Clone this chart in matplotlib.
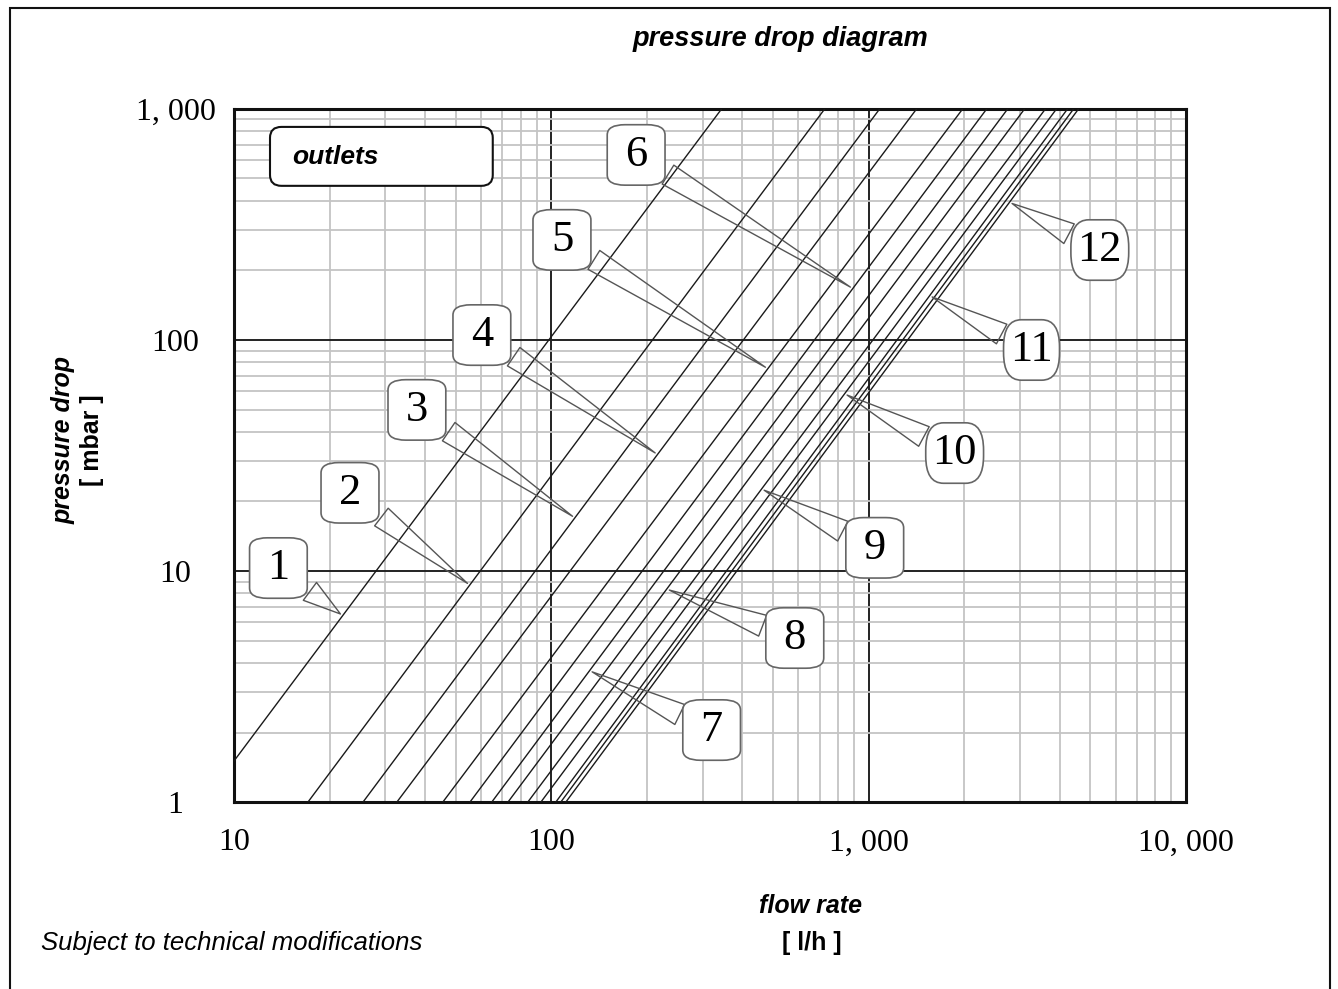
import numpy as np
import matplotlib
matplotlib.use("Agg")
import matplotlib.pyplot as plt
from matplotlib.patches import FancyBboxPatch, Rectangle
from matplotlib.ticker import FixedLocator, NullFormatter

# flow rate [l/h] where each line is at 1 mbar and at 1000 mbar
flow_at_1mbar = [8.0, 17.1, 25.5, 32.6, 45.5, 55.4, 64.9, 73.0, 84.3, 92.7, 103.3, 107.1, 111.1]
flow_at_1000mbar = [344, 727, 1083, 1416, 1978, 2355, 2742, 3100, 3606, 3908, 4234, 4424, 4586]
pressure_ends = [1, 1000]

# callout labels and the line each one points at
outlet_labels = ["1", "2", "3", "4", "5", "6", "7", "8", "9", "10", "11", "12"]
label_line = [0, 1, 2, 3, 4, 5, 6, 7, 8, 9, 10, 12]
# flow rate where each callout touches its line
pointer_flow = [22.0, 55.3, 118.6, 216, 481, 891, 132, 231, 460, 840, 1557, 2780]
# callout box positions (flow, pressure)
label_flow = [13.8, 23.2, 37.7, 60.4, 108, 185, 320, 585, 1045, 1866, 3260, 5350]
label_pressure = [10.3, 21.8, 49.8, 105, 271, 632, 2.05, 5.13, 12.6, 32.4, 90.5, 245]

x_ticks = [10, 100, 1000, 10000]
x_tick_labels = ["10", "100", "1, 000", "10, 000"]
y_ticks = [1, 10, 100, 1000]
y_tick_labels = ["1", "10", "100", "1, 000"]


def point_on_line(i, q):
    # straight line in log-log space between the two read end points
    lx = np.log10([flow_at_1mbar[i], flow_at_1000mbar[i]])
    ly = np.log10(pressure_ends)
    return 10 ** np.interp(np.log10(q), lx, ly)


def main():
    fig = plt.figure(figsize=(13.38, 9.89), dpi=100)
    ax = fig.add_axes([0.1749, 0.189, 0.7115, 0.7009])

    ax.set_xscale("log")
    ax.set_yscale("log")
    ax.set_xlim(10, 10000)
    ax.set_ylim(1, 1000)

    # grid
    minors = [m * 10 ** e for e in range(0, 4) for m in range(2, 10)]
    ax.xaxis.set_minor_locator(FixedLocator(minors))
    ax.yaxis.set_minor_locator(FixedLocator(minors))
    ax.xaxis.set_minor_formatter(NullFormatter())
    ax.yaxis.set_minor_formatter(NullFormatter())
    ax.grid(which="minor", color="#c4c4c4", lw=1.3)
    ax.grid(which="major", color="#222222", lw=1.4)
    ax.set_axisbelow(True)

    ax.set_xticks(x_ticks)
    ax.set_xticklabels(x_tick_labels)
    ax.set_yticks(y_ticks)
    ax.set_yticklabels(y_tick_labels)
    ax.tick_params(which="both", length=0)
    ax.tick_params(axis="x", pad=19, labelsize=23)
    ax.tick_params(axis="y", pad=42, labelsize=23)
    for lab in ax.get_xticklabels() + ax.get_yticklabels():
        lab.set_fontfamily("Liberation Serif")
    for lab in ax.get_yticklabels():
        lab.set_horizontalalignment("center")

    for sp in ax.spines.values():
        sp.set_linewidth(2.2)
        sp.set_color("#111111")

    # characteristic lines
    for i in range(len(flow_at_1mbar)):
        ax.plot([flow_at_1mbar[i], flow_at_1000mbar[i]], pressure_ends,
                color="#1a1a1a", lw=1.0, zorder=3)

    # callouts, boxes kept about the same size for one and two digits
    for k, lab in enumerate(outlet_labels):
        i = label_line[k]
        target = (pointer_flow[k], point_on_line(i, pointer_flow[k]))
        pad = 0.40 if len(lab) == 1 else 0.15
        ax.annotate(lab, xy=target, xytext=(label_flow[k], label_pressure[k]),
                    ha="center", va="center", fontsize=32,
                    fontfamily="Liberation Serif", zorder=5,
                    bbox=dict(boxstyle="round,pad=%.2f,rounding_size=0.4" % pad,
                              fc="white", ec="#666666", lw=1.2,
                              mutation_aspect=0.23 / pad),
                    arrowprops=dict(arrowstyle="wedge,tail_width=0.5,shrink_factor=0.5",
                                    fc="none", ec="#555555", lw=1.0))

    # "outlets" box
    box = FancyBboxPatch((0.0378, 0.889), 0.234, 0.085, transform=ax.transAxes,
                         boxstyle="round,pad=0,rounding_size=0.012",
                         fc="white", ec="#111111", lw=1.5, zorder=4,
                         mutation_aspect=1.3)
    ax.add_patch(box)
    ax.text(0.061, 0.931, "outlets", transform=ax.transAxes, ha="left", va="center",
            fontsize=19, fontweight="bold", fontstyle="italic",
            fontfamily="Liberation Sans", zorder=6)

    # texts
    sans = "Liberation Sans"
    fig.text(0.583, 0.961, "pressure drop diagram", ha="center", va="center",
             fontsize=19.5, fontweight="bold", fontstyle="italic", fontfamily=sans)
    fig.text(0.0475, 0.555, "pressure drop", rotation=90, ha="center", va="center",
             fontsize=18, fontweight="bold", fontstyle="italic", fontfamily=sans)
    fig.text(0.0685, 0.555, "[ mbar ]", rotation=90, ha="center", va="center",
             fontsize=18, fontweight="bold", fontfamily=sans)
    fig.text(0.606, 0.084, "flow rate", ha="center", va="center",
             fontsize=18, fontweight="bold", fontstyle="italic", fontfamily=sans)
    fig.text(0.607, 0.047, "[ l/h ]", ha="center", va="center",
             fontsize=18, fontweight="bold", fontfamily=sans)
    fig.text(0.031, 0.047, "Subject to technical modifications", ha="left", va="center",
             fontsize=18.5, fontstyle="italic", fontfamily=sans)

    # outer frame
    fig.patches.append(Rectangle((0.0075, -0.01), 0.9865, 1.002, transform=fig.transFigure,
                                 fill=False, ec="#111111", lw=1.5))

    fig.savefig("out.png", dpi=100)


if __name__ == '__main__':
    main()
